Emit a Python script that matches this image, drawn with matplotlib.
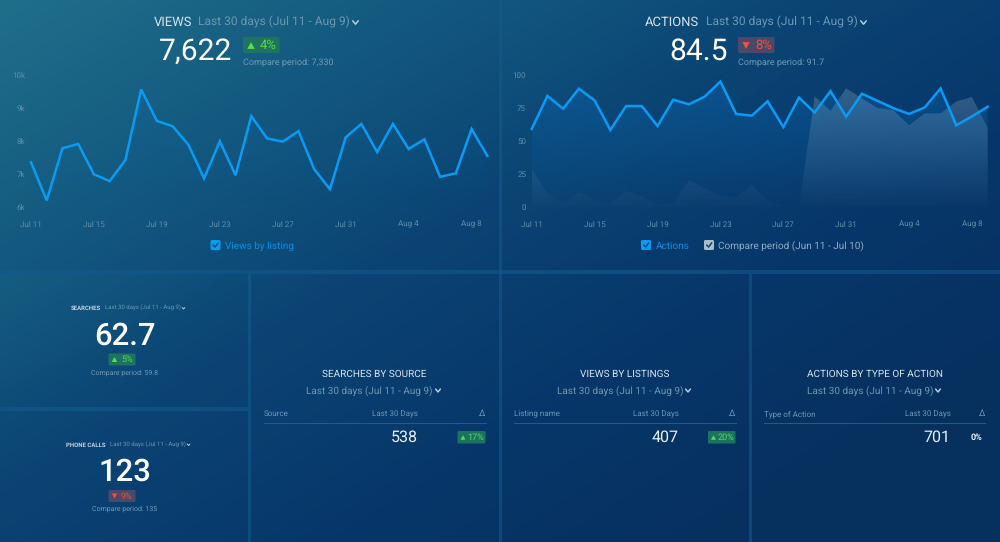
import numpy as np
import matplotlib
matplotlib.use("Agg")
import matplotlib.pyplot as plt
from matplotlib.patches import FancyBboxPatch, Rectangle, Polygon
from matplotlib.colors import LinearSegmentedColormap

plt.rcParams['font.family'] = ['Roboto', 'DejaVu Sans']
plt.rcParams['text.hinting'] = 'no_hinting'
plt.rcParams['text.hinting_factor'] = 1

dates = ['Jul 11', 'Jul 15', 'Jul 19', 'Jul 23', 'Jul 27', 'Jul 31', 'Aug 4', 'Aug 8']
views = [7350, 6190, 7780, 7910, 6985, 6780, 7420, 9570, 8610, 8450, 7890, 6860, 7990, 6960, 8760,
         8080, 7980, 8300, 7140, 6530, 8110, 8520, 7660, 8520, 7760, 8050, 6910, 7015, 8365, 7550]
actions = [59.1, 84.3, 74.6, 89.8, 80.9, 58.4, 76.6, 76.6, 61.4, 81.4, 77.9, 83.8, 95.2, 70.6, 69.3,
           80.2, 60.7, 83, 71.6, 88, 68.5, 86, 80.5, 75, 70.6, 75.6, 90, 62, 68.7, 76.1]
compare = [29, 10, 3, 11, 5, 3, 12, 8, 2, 2.5, 20, 14, 8, 7.5, 16,
           5, 0, 0, 84, 73, 90, 82.5, 75, 73.5, 62, 71, 71, 80, 83.5, 60]
views_ticks = [6000, 7000, 8000, 9000, 10000]
views_tick_labels = ['6k', '7k', '8k', '9k', '10k']
actions_ticks = [0, 25, 50, 75, 100]

W, H = 1000, 542
fig = plt.figure(figsize=(10, 5.42), dpi=100)

# ---------- background ----------
bg = fig.add_axes([0, 0, 1, 1], zorder=0)
bg.set_xlim(0, W); bg.set_ylim(H, 0); bg.axis('off')
yy, xx = np.mgrid[0:H, 0:W]
t = np.clip((xx / W * 0.62 + yy / H * 0.55), 0, 1)
cm = LinearSegmentedColormap.from_list('bg', ['#1f6f8b', '#145a80', '#0b4474', '#07376a', '#06305e'])
bg.imshow(t, cmap=cm, vmin=0, vmax=1, extent=(0, W, H, 0), aspect='auto', zorder=0, interpolation='bilinear')


def panel_sheen(x0, y0, x1, y1, strength):
    py, px = np.mgrid[0:40, 0:40]
    a = np.clip(1 - (px / 39 + py / 39) / 1.2, 0, 1) * strength
    rgba = np.zeros((40, 40, 4))
    rgba[..., 0] = 0.12; rgba[..., 1] = 0.45; rgba[..., 2] = 0.55
    rgba[..., 3] = a
    bg.imshow(rgba, extent=(x0, x1, y1, y0), aspect='auto', zorder=1, interpolation='bilinear')


panel_sheen(0, 274, 248, 407, 0.22)
panel_sheen(501, 0, 1000, 270, 0.08)
bg.set_xlim(0, W); bg.set_ylim(H, 0)

gap = '#135c90'
for r in [(0, 270, 1000, 4), (248, 274, 3, 268), (499, 0, 2.5, 542), (749, 274, 3, 268), (0, 407, 248, 3.5)]:
    bg.add_patch(Rectangle((r[0], r[1]), r[2], r[3], fc=gap, ec='none', alpha=0.55, zorder=2))

# ---------- charts ----------
LINE = '#0a9bf5'
TICK = '#5f8ea9'


def make_axes(x0, x1, ytop, ybot):
    ax = fig.add_axes([x0 / W, 1 - ybot / H, (x1 - x0) / W, (ybot - ytop) / H], zorder=2)
    ax.patch.set_alpha(0)
    for s in ax.spines.values():
        s.set_visible(False)
    ax.tick_params(length=0, labelsize=6.1, labelcolor=TICK, pad=10)
    ax.tick_params(axis='y', pad=4)
    ax.set_xticks(range(0, 30, 4), dates)
    return ax


def grad_fill(ax, x, y, rgb, top_alpha, bot_alpha, ymin, ymax, z):
    g = np.zeros((64, 2, 4))
    g[..., :3] = rgb
    g[..., 3] = np.linspace(top_alpha, bot_alpha, 64)[:, None]
    im = ax.imshow(g, extent=(x[0], x[-1], ymin, ymax), aspect='auto', zorder=z, origin='upper')
    poly = Polygon(list(zip(x, y)) + [(x[-1], ymin), (x[0], ymin)], closed=True, transform=ax.transData,
                   fc='none', ec='none')
    ax.add_patch(poly)
    im.set_clip_path(poly)


idx = np.arange(30)
ax1 = make_axes(31, 487.3, 75.3, 206.7)
ax1.set_xlim(0, 29); ax1.set_ylim(6000, 10000)
grad_fill(ax1, idx, views, (0.04, 0.45, 0.75), 0.18, 0.0, 6000, 10000, 1)
ax1.plot(idx, views, color=LINE, lw=1.8, solid_joinstyle='miter', zorder=3, clip_on=False)
ax1.set_yticks(views_ticks, views_tick_labels)
ax1.set_xlim(0, 29); ax1.set_ylim(6000, 10000)

ax2 = make_axes(531.7, 987.7, 75.3, 206.7)
ax2.set_xlim(0, 29); ax2.set_ylim(0, 100)
grad_fill(ax2, idx, actions, (0.04, 0.42, 0.72), 0.42, 0.0, 0, 100, 1)
grad_fill(ax2, idx, compare, (0.72, 0.80, 0.86), 0.27, 0.02, 0, 100, 2)
ax2.plot(idx, actions, color=LINE, lw=1.8, solid_joinstyle='miter', zorder=3, clip_on=False)
ax2.set_yticks(actions_ticks, [str(v) for v in actions_ticks])
ax2.set_xlim(0, 29); ax2.set_ylim(0, 100)

# ---------- overlay (pixel coordinates) ----------
ov = fig.add_axes([0, 0, 1, 1], zorder=5)
ov.set_xlim(0, W); ov.set_ylim(H, 0); ov.axis('off'); ov.patch.set_alpha(0)

WHITE = '#ffffff'
TITLE = '#d5e2ea'
SUB = '#6c97b2'
CMP = '#6f9ab4'
GREEN = '#4fe04a'
GREENBG = '#1f7560'
RED = '#f2503c'
REDBG = '#4d4a68'


def T(x, y, s, size, color, ha='center', weight='normal'):
    ov.text(x, y, s, fontsize=size, color=color, ha=ha, va='center', fontweight=weight)


def chevron(x, y, w, color, lw=1.1):
    ov.plot([x - w, x, x + w], [y - w * 0.6, y + w * 0.6, y - w * 0.6], color=color, lw=lw, solid_capstyle='round')


def badge(x0, y0, x1, y1, fc):
    ov.add_patch(FancyBboxPatch((x0 + 1, y0 + 1), x1 - x0 - 2, y1 - y0 - 2, boxstyle='round,pad=1,rounding_size=1',
                                fc=fc, ec='none', alpha=0.95))


def tri(cx, cy, w, up, color):
    s = 1 if up else -1
    ov.add_patch(Polygon([(cx - w, cy + s * w * 0.9), (cx + w, cy + s * w * 0.9), (cx, cy - s * w * 0.9)], closed=True,
                         fc=color, ec='none'))


def checkbox(x, y, fc):
    ov.add_patch(FancyBboxPatch((x + 1, y + 1), 8, 8, boxstyle='round,pad=1,rounding_size=1.5', fc=fc, ec='none'))
    ov.plot([x + 2.8, x + 4.6, x + 7.6], [y + 5.2, y + 7, y + 3], color='#0f4a78', lw=1.1)


# top-left
T(173, 22.6, 'VIEWS', 9.2, TITLE)
T(198.5, 22.3, 'Last 30 days (Jul 11 - Aug 9)', 8.5, SUB, ha='left')
chevron(355.5, 22.5, 2.8, '#b8cdda')
T(196, 52, '7,622', 21.4, WHITE)
badge(243, 37, 279.5, 53, GREENBG)
tri(251, 45.5, 3.8, True, GREEN)
T(259.5, 45.5, '4%', 9.4, GREEN, ha='left')
T(243, 62.8, 'Compare period: 7,330', 6.65, CMP, ha='left')
checkbox(210.5, 240, '#0a9bf5')
T(225, 246.3, 'Views by listing', 7.16, '#0a8fe6', ha='left')

# top-right
T(698.5, 22.6, 'ACTIONS', 9.2, TITLE, ha='right')
T(706, 22.3, 'Last 30 days (Jul 11 - Aug 9)', 8.5, SUB, ha='left')
chevron(863.5, 22.5, 2.8, '#b8cdda')
T(699, 52, '84.5', 21.4, WHITE)
badge(738, 37, 774.5, 53, REDBG)
tri(746, 45.5, 3.8, False, RED)
T(755, 45.5, '8%', 9.4, RED, ha='left')
T(738, 62.8, 'Compare period: 91.7', 6.65, CMP, ha='left')
checkbox(641, 240, '#0a9bf5')
T(655.5, 246.3, 'Actions', 7.16, '#0a8fe6', ha='left')
checkbox(704, 240, '#a9bdcb')
T(718, 246.3, 'Compare period (Jun 11 - Jul 10)', 7.16, '#8fadc2', ha='left')

# small KPI panels
T(101, 308.3, 'SEARCHES', 4.6, '#c3d4df', ha='right', weight='bold')
T(105, 308, 'Last 30 days (Jul 11 - Aug 9)', 4.4, SUB, ha='left')
chevron(183.5, 308.3, 1.3, '#b8cdda', 0.7)
T(124.5, 336.5, '62.7', 22, WHITE, weight='medium')
badge(108.5, 353.5, 135.5, 365.5, GREENBG)
tri(114.5, 359.5, 2.8, True, GREEN)
T(121, 359.5, '5%', 6.8, GREEN, ha='left')
T(124.5, 372.3, 'Compare period: 59.8', 5.1, CMP)

T(106, 445, 'PHONE CALLS', 4.6, '#c3d4df', ha='right', weight='bold')
T(110, 444.5, 'Last 30 days (Jul 11 - Aug 9)', 4.4, SUB, ha='left')
chevron(188.5, 444.8, 1.3, '#b8cdda', 0.7)
T(124.5, 472.5, '123', 22, WHITE, weight='medium')
badge(108.5, 490, 135.5, 502, REDBG)
tri(114.5, 496, 2.8, False, RED)
T(121, 496, '9%', 6.8, RED, ha='left')
T(124.5, 508.7, 'Compare period: 135', 5.1, CMP)


# table panels
def table(x0, title, date_cx, chev_x, col0, colh_r, val, val_r, rule_x1, delta_x, pct, badge_box=None):
    T(date_cx, 373.8, title, 7.3, TITLE)
    T(date_cx - 4.5, 390.8, 'Last 30 days (Jul 11 - Aug 9)', 7.3, SUB)
    chevron(chev_x, 390.5, 2.4, '#b8cdda')
    T(x0, 413.8, col0, 6.0, SUB, ha='left')
    T(colh_r, 413.8, 'Last 30 Days', 6.0, SUB, ha='right')
    T(delta_x, 413.8, 'Δ', 6.8, SUB, ha='center')
    ov.plot([x0, rule_x1], [422.7, 422.7], color='#235d8a', lw=0.7)
    T(val_r, 437, val, 11.8, '#e9f0f5', ha='right')
    if badge_box:
        badge(badge_box, 431, rule_x1, 443.5, GREENBG)
        tri(badge_box + 5.5, 437.5, 2.5, True, GREEN)
        T(badge_box + 10, 437.5, pct, 6.6, GREEN, ha='left')
    else:
        T(rule_x1 - 2.5, 437.5, pct, 6.4, '#e9f0f5', ha='right', weight='bold')


table(264, 'SEARCHES BY SOURCE', 374, 438, 'Source', 417.5, '538', 417.5, 485.5, 482.5, '17%', 457.5)
table(514, 'VIEWS BY LISTINGS', 624.5, 688, 'Listing name', 679, '407', 679, 735.5, 732.5, '20%', 708)
table(764, 'ACTIONS BY TYPE OF ACTION', 874.5, 938, 'Type of Action', 950.5, '701', 950, 985, 982.5, '0%')

fig.savefig('out.png', dpi=100)
